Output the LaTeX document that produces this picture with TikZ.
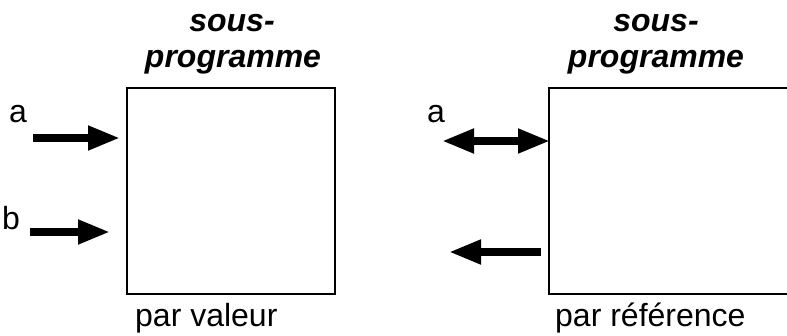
\documentclass[tikz,border=0pt]{standalone}
\usepackage{fontspec}
\setmainfont{Liberation Sans}
\usetikzlibrary{arrows.meta}
\tikzset{
  box/.style={draw, line width=1.6pt, inner sep=0pt, anchor=north west},
  title/.style={font=\fontsize{32}{38}\selectfont\bfseries\itshape, anchor=base, inner sep=0pt},
  lbl/.style={font=\fontsize{32}{38}\selectfont, inner sep=0pt},
  fat/.style={line width=7.5pt, -{Triangle[length=32pt,width=23pt]}},
  fatboth/.style={line width=7.5pt, {Triangle[length=32pt,width=23pt]}-{Triangle[length=32pt,width=23pt]}},
}
\begin{document}
\begin{tikzpicture}[x=1pt,y=-1pt]
\useasboundingbox (0,0) rectangle (787,336);
\clip (0,0) rectangle (787,336);
% left box
\node[box, minimum width=208pt, minimum height=206pt] (L) at (126,87) {};
% right box (runs past the right edge)
\node[box, minimum width=260pt, minimum height=206pt] (R) at (548,87) {};
% titles
\node[title] (lt1) at (232,32) {sous-};
\node[title] (lt2) at (233,68) {programme};
\node[title] (rt1) at (656,32) {sous-};
\node[title] (rt2) at (656,68) {programme};
% labels
\node[lbl, anchor=base west] (la) at (9,123) {a};
\node[lbl, anchor=base west] (lb) at (2,230) {b};
\node[lbl, anchor=base west] (ra) at (427,123) {a};
\node[lbl, anchor=base west] (lv) at (135,327) {par valeur};
\node[lbl, anchor=base west] (rv) at (555,327) {par référence};
% arrow end points
\coordinate (a1) at (33,138);
\coordinate (a2) at (120,138);
\coordinate (b1) at (30,232);
\coordinate (b2) at (110,232);
\coordinate (c1) at (442,141);
\coordinate (c2) at (550,141);
\coordinate (d1) at (541,252);
\coordinate (d2) at (449,252);
\draw[fat] (a1) -- (a2);
\draw[fat] (b1) -- (b2);
\draw[fatboth] (c1) -- (c2);
\draw[fat] (d1) -- (d2);
\end{tikzpicture}
\end{document}
